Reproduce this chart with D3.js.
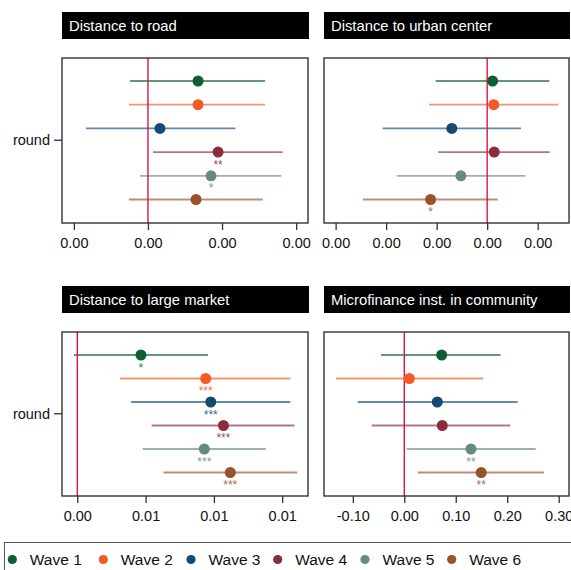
<!DOCTYPE html>
<html><head><meta charset="utf-8">
<script src="https://cdn.jsdelivr.net/npm/d3@7"></script>
<style>
body{margin:0;background:#fff;}
svg{display:block;font-family:"Liberation Sans",Arial,sans-serif;}
</style></head>
<body><svg id="c" width="571" height="570"></svg>
<script>
const waves = ["Wave 1","Wave 2","Wave 3","Wave 4","Wave 5","Wave 6"];
const waveColors = ["#0e5f2f","#f45a28","#144a76","#8a2d3d","#668a7c","#9a512c"];
const panelTitles = ["Distance to road","Distance to urban center","Distance to large market","Microfinance inst. in community"];

// Distance to road
const roadEst  = [0.000676, 0.000676, 0.000162, 0.000946, 0.000851, 0.000649];
const roadLo   = [-0.000243,-0.000257,-0.000838, 0.000068,-0.000108,-0.000257];
const roadHi   = [0.00158, 0.00158, 0.00118, 0.00182, 0.00180, 0.00155];
const roadStars= ["","","","**","*",""];
const roadTicks= [-0.001, 0, 0.001, 0.002];

// Distance to urban center
const urbanEst  = [0.000107, 0.00013, -0.00070, 0.00014, -0.00052, -0.00112];
const urbanLo   = [-0.00102,-0.00115,-0.00207,-0.00097,-0.00179,-0.00246];
const urbanHi   = [0.00123, 0.00141, 0.00067, 0.00124, 0.00076, 0.00021];
const urbanStars= ["","","","","","*"];
const urbanTicks= [-0.003,-0.002,-0.001, 0, 0.001];

// Distance to large market
const marketEst  = [0.00466, 0.00940, 0.00977, 0.01070, 0.00930, 0.01120];
const marketLo   = [-0.00024, 0.00313, 0.00393, 0.00544, 0.00479, 0.00630];
const marketHi   = [0.00957, 0.01560, 0.01560, 0.01590, 0.01380, 0.01610];
const marketStars= ["*","***","***","***","***","***"];
const marketTicks= [0, 0.005, 0.010, 0.015];

// Microfinance inst. in community
const mfiEst  = [0.0726, 0.0097, 0.0641, 0.0738, 0.1295, 0.1495];
const mfiLo   = [-0.0452,-0.1328,-0.0905,-0.0633, 0.0045, 0.0264];
const mfiHi   = [0.1870, 0.1534, 0.2202, 0.2057, 0.2553, 0.2715];
const mfiStars= ["","","","","**","**"];
const mfiTicks= [-0.1, 0, 0.1, 0.2, 0.3];

const panels = [
  {title:panelTitles[0], est:roadEst, lo:roadLo, hi:roadHi, stars:roadStars, ticks:roadTicks, dom:[-0.00116,0.00216], x0:62, x1:308, y0:58, y1:223, tb:12, ylab:true},
  {title:panelTitles[1], est:urbanEst, lo:urbanLo, hi:urbanHi, stars:urbanStars, ticks:urbanTicks, dom:[-0.00323,0.00162], x0:324, x1:569, y0:58, y1:223, tb:12, ylab:false},
  {title:panelTitles[2], est:marketEst, lo:marketLo, hi:marketHi, stars:marketStars, ticks:marketTicks, dom:[-0.00112,0.01689], x0:62, x1:308, y0:332, y1:496, tb:286, ylab:true},
  {title:panelTitles[3], est:mfiEst, lo:mfiLo, hi:mfiHi, stars:mfiStars, ticks:mfiTicks, dom:[-0.156,0.320], x0:324, x1:569, y0:332, y1:496, tb:286, ylab:false}
];

const svg = d3.select("#c");
const f2 = d3.format(".2f");
const fmt = v => f2(v).replace("\u2212","-");

panels.forEach(p => {
  const g = svg.append("g");
  // title bar
  g.append("rect").attr("x",p.x0).attr("y",p.tb).attr("width",p.x1-p.x0+1).attr("height",27).attr("fill","#000");
  g.append("text").attr("x",p.x0+7).attr("y",p.tb+18.5).attr("fill","#fff")
    .attr("font-size","14.8px").text(p.title);

  const x = d3.scaleLinear().domain(p.dom).range([p.x0,p.x1]);
  const y = d3.scalePoint().domain(waves).range([p.y0+23,p.y1-23.5]);

  // x axis
  const ax = g.append("g").attr("transform",`translate(0,${p.y1})`)
    .call(d3.axisBottom(x).tickValues(p.ticks).tickFormat(fmt).tickSize(7).tickSizeOuter(0));
  ax.select(".domain").remove();
  ax.selectAll(".tick line").attr("stroke","#333").attr("stroke-width",1.3);
  ax.selectAll(".tick text").attr("font-size","14.5px").attr("fill","#111").attr("dy","0").attr("y",25)
    .attr("font-family","'Liberation Sans',Arial,sans-serif");

  // y axis label
  if (p.ylab) {
    const yc = (p.y0+23 + p.y1-23.5)/2;
    g.append("line").attr("x1",p.x0-8).attr("x2",p.x0).attr("y1",yc).attr("y2",yc).attr("stroke","#333").attr("stroke-width",1.3);
    g.append("text").attr("x",p.x0-12).attr("y",yc+5).attr("text-anchor","end").attr("font-size","14.5px").attr("fill","#111").text("round");
  }

  // CI lines
  waves.forEach((w,i) => {
    g.append("line").attr("x1",x(p.lo[i])).attr("x2",x(p.hi[i])).attr("y1",y(w)).attr("y2",y(w))
      .attr("stroke",waveColors[i]).attr("stroke-opacity",0.65).attr("stroke-width",1.8);
  });
  // zero line
  g.append("line").attr("x1",x(0)).attr("x2",x(0)).attr("y1",p.y0).attr("y2",p.y1)
    .attr("stroke","#d8163f").attr("stroke-width",1.4);
  // points
  waves.forEach((w,i) => {
    g.append("circle").attr("cx",x(p.est[i])).attr("cy",y(w)).attr("r",5.5).attr("fill",waveColors[i]);
    if (p.stars[i]) {
      g.append("text").attr("x",x(p.est[i])).attr("y",y(w)+16.5).attr("text-anchor","middle")
        .attr("font-size","12px").attr("fill",waveColors[i]).attr("opacity",0.85).text(p.stars[i]);
    }
  });
  // frame
  g.append("rect").attr("x",p.x0).attr("y",p.y0).attr("width",p.x1-p.x0).attr("height",p.y1-p.y0)
    .attr("fill","none").attr("stroke","#333").attr("stroke-width",1.4);
});

// legend
const leg = svg.append("g");
leg.append("rect").attr("x",4.5).attr("y",542.5).attr("width",580).attr("height",40).attr("fill","none").attr("stroke","#555").attr("stroke-width",1);
const legX = [12.3, 103.3, 191, 277.7, 365, 451.7];
waves.forEach((w,i) => {
  leg.append("circle").attr("cx",legX[i]).attr("cy",559.5).attr("r",4.6).attr("fill",waveColors[i]);
  leg.append("text").attr("x",legX[i]+17.5).attr("y",565.3).attr("font-size","15.5px").attr("fill","#111").text(w);
});
</script></body></html>
